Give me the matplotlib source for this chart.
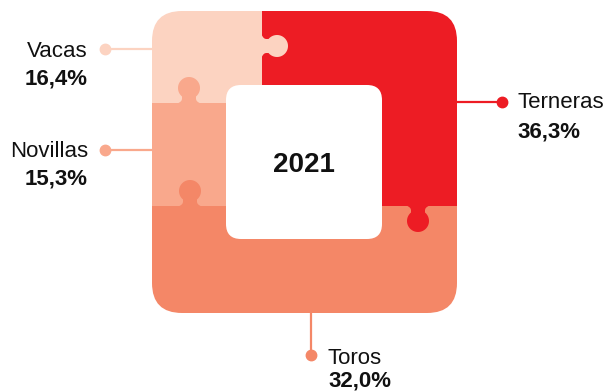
import numpy as np
import matplotlib.pyplot as plt
from matplotlib.patches import FancyBboxPatch, Rectangle, Polygon

plt.rcParams['font.family'] = ['Liberation Sans', 'DejaVu Sans']

# data
categories = ['Vacas', 'Novillas', 'Terneras', 'Toros']
shares = [16.4, 15.3, 36.3, 32.0]
year = '2021'
colors = ['#FCD3C1', '#F9A88C', '#ED1C24', '#F48767']


def fmt(v):
    return f'{v:.1f}%'.replace('.', ',')


def knob(ax, x, y, direction, color):
    # puzzle tab outline in local coords (u along direction, v across)
    dx, dy = direction
    head, r, neck = 15.0, 11.0, 7.0
    u0 = head - np.sqrt(r ** 2 - neck ** 2)
    phi0 = np.arccos((u0 - head) / r)
    phis = np.linspace(-phi0, phi0, 60)
    arc = [(head + r * np.cos(p), r * np.sin(p)) for p in phis]
    side_a = [(-1, -10.5), (0, -10.5), (1.2, -8.6), (2.6, -7.4), (4, -7)]
    side_b = [(u, -v) for u, v in reversed(side_a)]
    pts = side_a + arc + side_b
    xy = [(x + dx * u - dy * v, y + dy * u + dx * v) for u, v in pts]
    ax.add_patch(Polygon(xy, closed=True, color=color, lw=0, zorder=3))


fig = plt.figure(figsize=(6.05, 3.92), dpi=100)
ax = fig.add_axes([0, 0, 1, 1])
ax.set_xlim(0, 605)
ax.set_ylim(392, 0)
ax.axis('off')

L, R, T, B = 152, 457, 11, 313
vx, hy = 262, 103      # Vacas right / bottom
ny = 206               # bottom of Novillas / Terneras
iL, iR, iT, iB = 226, 382, 85, 239

outer = FancyBboxPatch((L, T), R - L, B - T,
                       boxstyle='round,pad=0,rounding_size=30',
                       fc='none', ec='none')
ax.add_patch(outer)

pieces = [
    Rectangle((L, T), vx - L, hy - T, color=colors[0], lw=0),
    Rectangle((L, hy), iL - L, ny - hy, color=colors[1], lw=0),
    Rectangle((vx, T), R - vx, ny - T, color=colors[2], lw=0),
    Rectangle((L, ny), R - L, B - ny, color=colors[3], lw=0),
]
for p in pieces:
    p.set_zorder(2)
    ax.add_patch(p)
    p.set_clip_path(outer)

knob(ax, vx, 46, (1, 0), colors[0])
knob(ax, 189, hy, (0, -1), colors[1])
knob(ax, 190, ny, (0, -1), colors[3])
knob(ax, 418, ny, (0, 1), colors[2])

ax.add_patch(FancyBboxPatch((iL, iT), iR - iL, iB - iT,
                            boxstyle='round,pad=0,rounding_size=15',
                            fc='white', ec='none', zorder=4))
ax.text((iL + iR) / 2, 172, year, ha='center', va='baseline',
        fontsize=20, fontweight='bold', color='#111111', zorder=5)

# connectors and labels
lw = 1.6
ms = 7.5
fs = 16
# Vacas
ax.plot([105, L], [49, 49], color=colors[0], lw=lw, zorder=1)
ax.plot(105, 49, 'o', color=colors[0], ms=ms, zorder=1)
ax.text(88, 57, categories[0], ha='right', va='baseline', fontsize=fs, color='#111111')
ax.text(88, 84, fmt(shares[0]), ha='right', va='baseline', fontsize=fs,
        fontweight='bold', color='#111111')
# Novillas
ax.plot([105, L], [150, 150], color=colors[1], lw=lw, zorder=1)
ax.plot(105, 150, 'o', color=colors[1], ms=ms, zorder=1)
ax.text(88, 157, categories[1], ha='right', va='baseline', fontsize=fs, color='#111111')
ax.text(88, 184, fmt(shares[1]), ha='right', va='baseline', fontsize=fs,
        fontweight='bold', color='#111111')
# Terneras
ax.plot([R, 502], [102, 102], color=colors[2], lw=lw, zorder=1)
ax.plot(502, 102, 'o', color=colors[2], ms=ms, zorder=1)
ax.text(517, 108, categories[2], ha='left', va='baseline', fontsize=fs, color='#111111')
ax.text(517, 137, fmt(shares[2]), ha='left', va='baseline', fontsize=fs,
        fontweight='bold', color='#111111')
# Toros
ax.plot([311, 311], [B, 355], color=colors[3], lw=lw, zorder=1)
ax.plot(311, 355, 'o', color=colors[3], ms=ms, zorder=1)
ax.text(328, 364, categories[3], ha='left', va='baseline', fontsize=fs, color='#111111')
ax.text(328, 387, fmt(shares[3]), ha='left', va='baseline', fontsize=fs,
        fontweight='bold', color='#111111')

fig.savefig('out.png', dpi=100)
